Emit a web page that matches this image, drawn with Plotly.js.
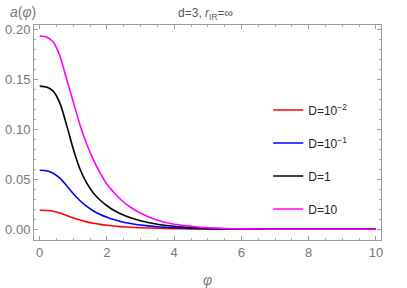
<!DOCTYPE html>
<html><head><meta charset="utf-8">
<script src="https://cdn.plot.ly/plotly-3.0.1.min.js"></script>
<style>html,body{margin:0;padding:0;background:#fff}#c{width:407px;height:288px}</style>
</head><body><div id="c"></div>
<script>
const phi   = [0, 0.2, 0.4, 0.6, 0.8, 1.0, 1.2, 1.4, 1.6, 1.8, 2.0, 2.2, 2.4, 2.7, 3.0, 3.5, 4.0, 4.5, 5.0, 5.5, 6, 7, 8, 9, 10];
const aD001 = [0.019, 0.0188, 0.018, 0.0162, 0.0138, 0.0113, 0.0092, 0.0074, 0.006, 0.0049, 0.004, 0.0033, 0.0027, 0.002, 0.0015, 0.001, 0.0006, 0.0004, 0.0002, 0.00015, 0.0001, 0, 0, 0, 0];
const aD01  = [0.059, 0.0585, 0.056, 0.051, 0.0435, 0.0355, 0.0285, 0.0228, 0.0183, 0.0148, 0.012, 0.0097, 0.0078, 0.0058, 0.0042, 0.0025, 0.0015, 0.0009, 0.0005, 0.0003, 0.0002, 0.0001, 0, 0, 0];
const aD1   = [0.143, 0.142, 0.138, 0.126, 0.104, 0.080, 0.060, 0.046, 0.036, 0.0290, 0.0235, 0.019, 0.0155, 0.0115, 0.0085, 0.005, 0.003, 0.0017, 0.001, 0.0006, 0.0003, 0.0001, 0, 0, 0];
const aD10  = [0.193, 0.192, 0.187, 0.173, 0.150, 0.127, 0.104, 0.085, 0.069, 0.056, 0.045, 0.037, 0.030, 0.022, 0.016, 0.009, 0.005, 0.003, 0.0015, 0.0008, 0.0004, 0.0001, 0, 0, 0];
const names  = ['D=10<sup>−2</sup>', 'D=10<sup>−1</sup>', 'D=1', 'D=10'];
const colors = ['#ff0000', '#0000ff', '#000000', '#ff00ff'];
const series = [aD001, aD01, aD1, aD10];

const traces = series.map((s, i) => ({
  x: phi, y: s, type: 'scatter', mode: 'lines', name: names[i],
  legendgroup: 'g' + i,
  line: {color: colors[i], width: 1.6, shape: 'spline', smoothing: 0.7}
}));

const gray = '#777';
const axisCommon = {
  showgrid: false, zeroline: false, showline: true, linecolor: '#999', linewidth: 1,
  mirror: 'ticks', ticks: 'inside', ticklen: 4, tickcolor: '#999',
  tickfont: {family: 'Liberation Sans, Arial, sans-serif', size: 13, color: gray}
};
const layout = {
  width: 407, height: 288,
  margin: {l: 34, r: 26, t: 25, b: 48},
  paper_bgcolor: '#fff', plot_bgcolor: '#fff',
  font: {family: 'Liberation Sans, Arial, sans-serif', color: gray},
  title: {text: 'd=3, <i>r</i><sub>IR</sub>=∞', x: 0.505, xanchor: 'center', y: 0.955, yanchor: 'middle',
          font: {size: 12, color: '#555'}},
  xaxis: Object.assign({}, axisCommon, {
    range: [-0.17, 10.15], tickvals: [0, 2, 4, 6, 8, 10],
    minor: {ticks: 'inside', dtick: 0.5, ticklen: 2, tickcolor: '#aaa'},
    title: {text: '<i>φ</i>', font: {size: 14, color: gray}, standoff: 16}
  }),
  yaxis: Object.assign({}, axisCommon, {
    range: [-0.0107, 0.204], tickvals: [0, 0.05, 0.10, 0.15, 0.20],
    ticktext: ['0.00', '0.05', '0.10', '0.15', '0.20'],
    minor: {ticks: 'inside', dtick: 0.01, ticklen: 2, tickcolor: '#aaa'}
  }),
  showlegend: true,
  legend: {x: 0.675, xanchor: 'left', y: 0.672, yanchor: 'top', bgcolor: 'rgba(0,0,0,0)',
           tracegroupgap: 14, font: {size: 12, color: '#222'}},
  annotations: [{
    text: '<i>a</i>(<i>φ</i>)', xref: 'paper', yref: 'paper', x: -0.075, y: 1.06,
    xanchor: 'left', yanchor: 'middle', showarrow: false, font: {size: 14, color: gray}
  }]
};
Plotly.newPlot('c', traces, layout, {displayModeBar: false, staticPlot: true});
</script></body></html>
